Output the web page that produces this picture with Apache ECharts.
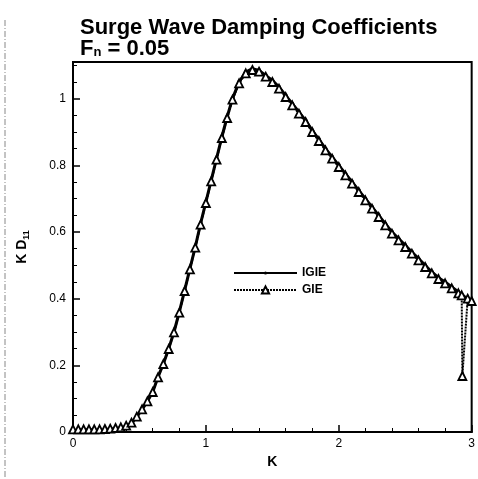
<!DOCTYPE html>
<html>
<head>
<meta charset="utf-8">
<script src="https://cdn.jsdelivr.net/npm/echarts@6/dist/echarts.min.js"></script>
<style>
html,body{margin:0;padding:0;background:#fff;}
#c{width:478px;height:479px;}
</style>
</head>
<body>
<div id="c"></div>
<script>
// Wave number K
const kValues = [0.00,0.04,0.08,0.12,0.16,0.20,0.24,0.28,0.32,0.36,0.40,0.44,0.48,0.52,0.56,0.60,
  0.64,0.68,0.72,0.76,0.80,0.84,0.88,0.92,0.96,1.00,1.04,1.08,1.12,1.16,1.20,
  1.25,1.30,1.35,1.40,1.45,1.50,1.55,1.60,1.65,1.70,1.75,1.80,1.85,1.90,1.95,2.00,
  2.05,2.10,2.15,2.20,2.25,2.30,2.35,2.40,2.45,2.50,2.55,2.60,2.65,2.70,2.75,2.80,2.85,2.90,2.93,2.97,3.00];
// IGIE K*D11
const igieValues = [0.003,0.003,0.003,0.003,0.003,0.003,0.004,0.005,0.007,0.010,0.016,0.026,0.045,0.068,0.092,0.120,
  0.165,0.205,0.250,0.300,0.360,0.425,0.490,0.555,0.625,0.690,0.755,0.820,0.885,0.945,1.000,
  1.050,1.080,1.090,1.085,1.070,1.055,1.035,1.010,0.985,0.960,0.935,0.905,0.878,0.850,0.825,0.800,
  0.775,0.750,0.725,0.700,0.675,0.650,0.625,0.600,0.580,0.560,0.540,0.520,0.500,0.480,0.463,0.450,0.435,0.420,0.410,0.400,0.395];
// GIE K (includes the drop near K=2.93)
const gieK = [0.00,0.04,0.08,0.12,0.16,0.20,0.24,0.28,0.32,0.36,0.40,0.44,0.48,0.52,0.56,0.60,
  0.64,0.68,0.72,0.76,0.80,0.84,0.88,0.92,0.96,1.00,1.04,1.08,1.12,1.16,1.20,
  1.25,1.30,1.35,1.40,1.45,1.50,1.55,1.60,1.65,1.70,1.75,1.80,1.85,1.90,1.95,2.00,
  2.05,2.10,2.15,2.20,2.25,2.30,2.35,2.40,2.45,2.50,2.55,2.60,2.65,2.70,2.75,2.80,2.85,2.90,2.925,2.93,2.97,3.00];
// GIE K*D11
const gieValues = [0.008,0.008,0.008,0.008,0.008,0.008,0.009,0.010,0.012,0.014,0.019,0.028,0.046,0.068,0.092,0.120,
  0.164,0.204,0.249,0.299,0.358,0.423,0.488,0.553,0.622,0.687,0.752,0.817,0.882,0.942,0.997,
  1.046,1.076,1.086,1.081,1.066,1.050,1.030,1.005,0.980,0.955,0.930,0.900,0.873,0.845,0.820,0.795,
  0.770,0.745,0.720,0.695,0.670,0.645,0.620,0.595,0.575,0.555,0.535,0.515,0.495,0.476,0.459,0.446,0.431,0.416,0.410,0.168,0.400,0.393];
const xTicks = ['0','1','2','3'];

const igieData = kValues.map((k,i)=>[k, igieValues[i]]);
const gieData = gieK.map((k,i)=>[k, gieValues[i]]);

const chart = echarts.init(document.getElementById('c'), null, {renderer:'canvas'});
const fontFam = '"Liberation Sans", Arial, Helvetica, sans-serif';
const legendText = {fontFamily:fontFam, fontWeight:'bold', fontSize:12, color:'#000'};
chart.setOption({
  backgroundColor:'#fff',
  animation:false,
  title:{
    text:'Surge Wave Damping Coefficients\n{f|F}{sub|n}{f| = 0.05}',
    left:75, top:12,
    textStyle:{fontFamily:fontFam, fontWeight:'bold', fontSize:22, color:'#000', lineHeight:21,
      rich:{f:{fontFamily:fontFam,fontWeight:'bold',fontSize:22,color:'#000',lineHeight:21},
            sub:{fontFamily:fontFam,fontWeight:'bold',fontSize:13,color:'#000',verticalAlign:'bottom',padding:[12,0,0,0]}}}
  },
  grid:{left:73, right:4, top:62, bottom:47, show:true, borderColor:'#000', borderWidth:2, backgroundColor:'transparent'},
  legend:[
    {orient:'vertical', left:228, top:262, itemWidth:63, itemHeight:4, textStyle:legendText, data:['IGIE']},
    {orient:'vertical', left:228, top:279, itemWidth:63, itemHeight:9, textStyle:legendText, data:['GIE']}
  ],
  xAxis:{
    type:'value', min:0, max:3, interval:1,
    name:'K', nameLocation:'middle', nameGap:21,
    nameTextStyle:{fontFamily:fontFam, fontWeight:'bold', fontSize:14, color:'#000'},
    axisLine:{show:true, onZero:false, lineStyle:{color:'#000', width:2}},
    axisTick:{show:true, inside:true, length:7, lineStyle:{color:'#000', width:1.5}},
    minorTick:{show:true, splitNumber:5, length:4, lineStyle:{color:'#000', width:1}},
    axisLabel:{fontFamily:fontFam, fontSize:12, color:'#000', margin:6, formatter:(v)=>xTicks[Math.round(v)]},
    splitLine:{show:false}
  },
  yAxis:{
    type:'value', min:0, max:1.11, interval:0.2,
    name:'{k|K D}{s|11}', nameLocation:'middle', nameGap:42, nameRotate:90,
    nameTextStyle:{rich:{k:{fontFamily:fontFam, fontWeight:'bold', fontSize:14, color:'#000'},
                         s:{fontFamily:fontFam, fontWeight:'bold', fontSize:9, color:'#000', padding:[8,0,0,0]}}},
    axisLine:{show:true, onZero:false, lineStyle:{color:'#000', width:2}},
    axisTick:{show:true, inside:true, length:7, lineStyle:{color:'#000', width:1.5}},
    minorTick:{show:true, splitNumber:4, length:4, lineStyle:{color:'#000', width:1}},
    axisLabel:{fontFamily:fontFam, fontSize:12, color:'#000', margin:7, showMaxLabel:false},
    splitLine:{show:false}
  },
  graphic:[{type:'line', shape:{x1:5,y1:20,x2:5,y2:479}, style:{stroke:'#888', lineWidth:1, lineDash:[6,2,1,2]}}],
  series:[
    {name:'IGIE', type:'line', data:igieData, symbol:'circle', symbolSize:4, showAllSymbol:true,
     lineStyle:{color:'#000', width:3}, itemStyle:{color:'#000'}, z:3},
    {name:'GIE', type:'line', data:gieData, symbol:'triangle', symbolSize:8, showAllSymbol:true,
     lineStyle:{color:'#000', width:2, type:[2,1]}, itemStyle:{color:'#fff', borderColor:'#000', borderWidth:1.8}, z:4}
  ]
});
</script>
</body>
</html>
